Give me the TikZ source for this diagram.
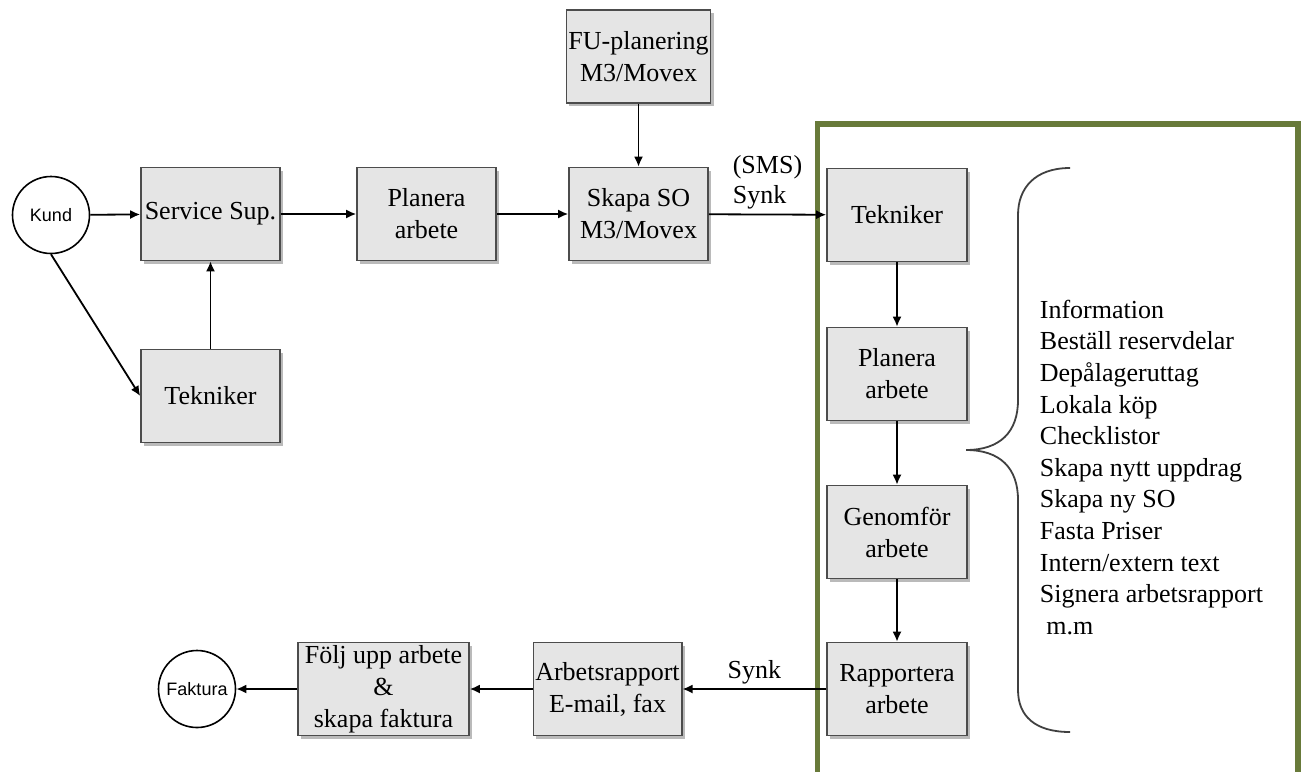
\documentclass[tikz,border=0pt]{standalone}
\usepackage{fontspec}
\setmainfont{Liberation Serif}
\newfontfamily\circfont{Liberation Sans}
\usetikzlibrary{arrows.meta,shadows}
\definecolor{framegreen}{RGB}{104,122,58}
\definecolor{boxgray}{RGB}{229,229,229}
\tikzset{
  box/.style={draw=black!70,line width=.8pt,fill=boxgray,minimum width=69.5pt,
    minimum height=46.5pt,inner sep=1pt,align=center,font=\fontsize{13}{16}\selectfont,
    drop shadow={shadow xshift=1.5pt,shadow yshift=-1.5pt,fill=black!45,opacity=.6}},
  ring/.style={circle,draw,line width=.8pt,minimum size=38.5pt,inner sep=0pt,
    font=\circfont\fontsize{9}{10}\selectfont},
  lbl/.style={font=\fontsize{13}{15}\selectfont,inner sep=1pt,align=left},
}
\begin{document}
\begin{tikzpicture}[x=0.5pt,y=-0.5pt,>={Latex[length=5pt,width=4.5pt]},line width=.9pt]
    \useasboundingbox (0,0) rectangle (1304,771);
    % frame around the field work
    \draw[framegreen,line width=2.6pt] (817.5,790) |- (1298,124) -- (1298,790);

    \node[ring] (kund) at (51,215) {Kund};
    \node[box] (sup) at (210.5,214) {Service Sup.};
    \node[box] (tek) at (210.5,396) {Tekniker};
    \node[box] (plan) at (426.5,214) {Planera\\arbete};
    \node[box] (fu) at (638.5,56.5) {FU-planering\\M3/Movex};
    \node[box] (so) at (638.5,214) {Skapa SO\\M3/Movex};

    \node[box,minimum width=70pt] (tekfält) at (897,215) {Tekniker};
    \node[box,minimum width=70pt] (planfält) at (897,374) {Planera\\arbete};
    \node[box,minimum width=70pt] (genom) at (897,532) {Genomför\\arbete};
    \node[box,minimum width=70pt] (rapp) at (897,689) {Rapportera\\arbete};

    \node[box] (rapport) at (607.5,689) {Arbetsrapport\\E-mail, fax};
    \node[box,minimum width=85.5pt] (folj) at (383.5,689) {Följ upp arbete\\\&\\skapa faktura};
    \node[ring] (faktura) at (197,689) {Faktura};

    \draw[->] (kund) -- (sup);
    \draw[->] (kund.south) -- (tek.west);
    \draw[->] (tek) -- (sup);
    \draw[->] (sup) -- (plan);
    \draw[->] (plan) -- (so);
    \draw[->] (fu) -- (so);
    \draw[->] (so) -- node[lbl,midway,above=1pt] {(SMS)\\Synk} (tekfält);
    \draw[->] (tekfält) -- (planfält);
    \draw[->] (planfält) -- (genom);
    \draw[->] (genom) -- (rapp);
    \draw[->] (rapp) -- node[lbl,midway,above=1pt] {Synk} (rapport);
    \draw[->] (rapport) -- (folj);
    \draw[->] (folj) -- (faktura);

    % brace and task list
    \draw[black!75,line width=.9pt] (1070,168) .. controls (1035,168) and (1018,188) .. (1018,215)
      -- (1018,400) .. controls (1018,432) and (1000,450) .. (966,450)
      .. controls (1000,450) and (1018,468) .. (1018,500)
      -- (1018,690) .. controls (1018,716) and (1035,732) .. (1070,732);
    \node[lbl,anchor=north west,inner sep=0pt,font=\fontsize{13}{15.8}\selectfont] (lista) at (1039,299)
      {Information\\Beställ reservdelar\\Depålageruttag\\Lokala köp\\Checklistor\\Skapa nytt uppdrag\\
       Skapa ny SO\\Fasta Priser\\Intern/extern text\\Signera arbetsrapport\\\ m.m};
  \end{tikzpicture}
\end{document}
